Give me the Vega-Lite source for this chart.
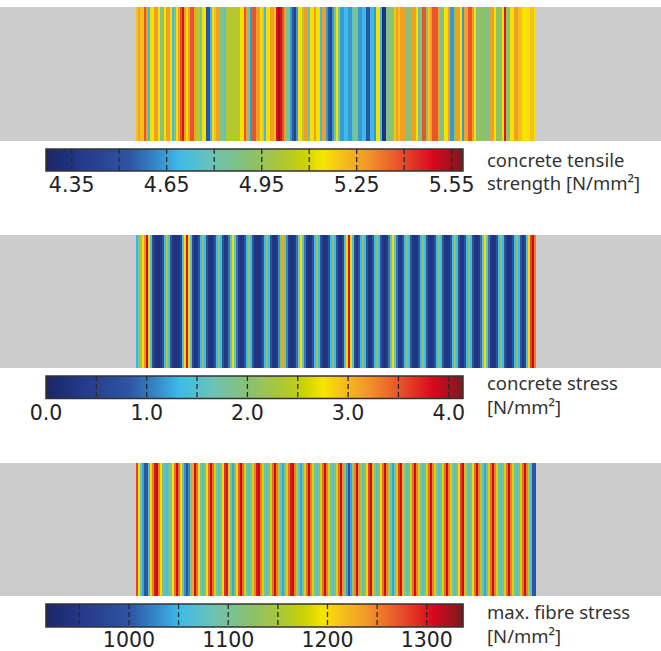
{
"$schema": "https://vega.github.io/schema/vega-lite/v6.json",
"padding": {"left": 0, "top": 6, "right": 0, "bottom": 0},
"bounds": "flush",
"spacing": 0,
"resolve": {"scale": {"color": "independent", "x": "independent", "y": "independent"}},
"config": {"view": {"stroke": null}},
"datasets": {
"tensile": [
{"i":0,"v":5.2},{"i":1,"v":5.27},{"i":2,"v":5.2},{"i":3,"v":5.2},{"i":4,"v":5.38},{"i":5,"v":5.27},{"i":6,"v":4.69},{"i":7,"v":5.15},{"i":8,"v":5.15},{"i":9,"v":5.27},
{"i":10,"v":5.27},{"i":11,"v":5.15},{"i":12,"v":4.86},{"i":13,"v":4.93},{"i":14,"v":5.15},{"i":15,"v":5.27},{"i":16,"v":5.27},{"i":17,"v":5.15},{"i":18,"v":4.69},{"i":19,"v":4.86},
{"i":20,"v":5.15},{"i":21,"v":5.27},{"i":22,"v":5.38},{"i":23,"v":5.48},{"i":24,"v":5.27},{"i":25,"v":5.15},{"i":26,"v":5.27},{"i":27,"v":5.38},{"i":28,"v":5.38},{"i":29,"v":5.27},
{"i":30,"v":5.03},{"i":31,"v":5.03},{"i":32,"v":4.86},{"i":33,"v":5.15},{"i":34,"v":5.15},{"i":35,"v":4.53},{"i":36,"v":4.53},{"i":37,"v":4.69},{"i":38,"v":5.15},{"i":39,"v":5.2},
{"i":40,"v":5.27},{"i":41,"v":5.27},{"i":42,"v":4.86},{"i":43,"v":4.86},{"i":44,"v":4.77},{"i":45,"v":5.03},{"i":46,"v":5.03},{"i":47,"v":5.03},{"i":48,"v":5.03},{"i":49,"v":5.03},
{"i":50,"v":5.03},{"i":51,"v":5.03},{"i":52,"v":5.15},{"i":53,"v":5.15},{"i":54,"v":5.38},{"i":55,"v":5.27},{"i":56,"v":4.86},{"i":57,"v":4.64},{"i":58,"v":5.38},{"i":59,"v":5.38},
{"i":60,"v":5.27},{"i":61,"v":5.27},{"i":62,"v":5.15},{"i":63,"v":5.2},{"i":64,"v":4.69},{"i":65,"v":5.15},{"i":66,"v":5.15},{"i":67,"v":5.27},{"i":68,"v":5.27},{"i":69,"v":5.2},
{"i":70,"v":5.48},{"i":71,"v":5.55},{"i":72,"v":5.48},{"i":73,"v":5.38},{"i":74,"v":5.27},{"i":75,"v":4.86},{"i":76,"v":4.86},{"i":77,"v":4.64},{"i":78,"v":4.53},{"i":79,"v":4.43},
{"i":80,"v":4.64},{"i":81,"v":5.15},{"i":82,"v":5.15},{"i":83,"v":5.03},{"i":84,"v":5.27},{"i":85,"v":5.27},{"i":86,"v":4.77},{"i":87,"v":5.15},{"i":88,"v":5.15},{"i":89,"v":5.27},
{"i":90,"v":5.15},{"i":91,"v":5.15},{"i":92,"v":4.69},{"i":93,"v":5.27},{"i":94,"v":5.27},{"i":95,"v":4.64},{"i":96,"v":4.53},{"i":97,"v":4.43},{"i":98,"v":4.64},{"i":99,"v":4.86},
{"i":100,"v":5.15},{"i":101,"v":4.86},{"i":102,"v":4.64},{"i":103,"v":4.64},{"i":104,"v":4.69},{"i":105,"v":4.69},{"i":106,"v":4.64},{"i":107,"v":4.64},{"i":108,"v":4.77},{"i":109,"v":4.86},
{"i":110,"v":4.86},{"i":111,"v":4.64},{"i":112,"v":4.64},{"i":113,"v":4.69},{"i":114,"v":4.69},{"i":115,"v":4.53},{"i":116,"v":4.53},{"i":117,"v":4.69},{"i":118,"v":4.69},{"i":119,"v":4.64},
{"i":120,"v":5.15},{"i":121,"v":5.15},{"i":122,"v":4.69},{"i":123,"v":4.34},{"i":124,"v":4.34},{"i":125,"v":4.86},{"i":126,"v":4.86},{"i":127,"v":4.93},{"i":128,"v":4.93},{"i":129,"v":5.2},
{"i":130,"v":5.27},{"i":131,"v":5.2},{"i":132,"v":5.27},{"i":133,"v":5.27},{"i":134,"v":5.27},{"i":135,"v":4.86},{"i":136,"v":4.93},{"i":137,"v":4.93},{"i":138,"v":5.27},{"i":139,"v":5.27},
{"i":140,"v":5.15},{"i":141,"v":4.86},{"i":142,"v":4.86},{"i":143,"v":5.38},{"i":144,"v":5.38},{"i":145,"v":4.93},{"i":146,"v":5.2},{"i":147,"v":5.27},{"i":148,"v":5.38},{"i":149,"v":5.38},
{"i":150,"v":5.38},{"i":151,"v":5.27},{"i":152,"v":4.86},{"i":153,"v":4.86},{"i":154,"v":5.15},{"i":155,"v":5.15},{"i":156,"v":5.27},{"i":157,"v":4.64},{"i":158,"v":4.64},{"i":159,"v":4.93},
{"i":160,"v":5.27},{"i":161,"v":5.27},{"i":162,"v":5.15},{"i":163,"v":4.64},{"i":164,"v":5.27},{"i":165,"v":5.27},{"i":166,"v":5.38},{"i":167,"v":5.38},{"i":168,"v":5.27},{"i":169,"v":5.15},
{"i":170,"v":4.86},{"i":171,"v":4.93},{"i":172,"v":4.93},{"i":173,"v":4.93},{"i":174,"v":4.93},{"i":175,"v":4.86},{"i":176,"v":4.86},{"i":177,"v":5.27},{"i":178,"v":5.27},{"i":179,"v":5.15},
{"i":180,"v":4.93},{"i":181,"v":4.93},{"i":182,"v":4.93},{"i":183,"v":5.15},{"i":184,"v":5.48},{"i":185,"v":4.93},{"i":186,"v":4.93},{"i":187,"v":5.15},{"i":188,"v":5.15},{"i":189,"v":5.27},
{"i":190,"v":5.27},{"i":191,"v":5.2},{"i":192,"v":5.2},{"i":193,"v":5.15},{"i":194,"v":5.15},{"i":195,"v":5.15},{"i":196,"v":5.15},{"i":197,"v":5.2},{"i":198,"v":5.2},{"i":199,"v":5.15}
],
"stress": [
{"i":0,"v":1.3},{"i":1,"v":1.7},{"i":2,"v":2.3},{"i":3,"v":2.8},{"i":4,"v":3.2},{"i":5,"v":3.85},{"i":6,"v":2.8},{"i":7,"v":1.5},{"i":8,"v":0.7},{"i":9,"v":0.3},
{"i":10,"v":0.25},{"i":11,"v":0.25},{"i":12,"v":0.3},{"i":13,"v":0.8},{"i":14,"v":1.4},{"i":15,"v":2.4},{"i":16,"v":1.5},{"i":17,"v":0.8},{"i":18,"v":0.3},{"i":19,"v":0.25},
{"i":20,"v":0.25},{"i":21,"v":0.3},{"i":22,"v":0.6},{"i":23,"v":1.5},{"i":24,"v":2.8},{"i":25,"v":3.8},{"i":26,"v":2.8},{"i":27,"v":1.5},{"i":28,"v":0.6},{"i":29,"v":0.25},
{"i":30,"v":0.3},{"i":31,"v":0.8},{"i":32,"v":1.35},{"i":33,"v":2.1},{"i":34,"v":1.35},{"i":35,"v":0.8},{"i":36,"v":0.3},{"i":37,"v":0.25},{"i":38,"v":0.3},{"i":39,"v":0.8},
{"i":40,"v":1.35},{"i":41,"v":2.0},{"i":42,"v":1.35},{"i":43,"v":0.8},{"i":44,"v":0.3},{"i":45,"v":0.4},{"i":46,"v":1.0},{"i":47,"v":1.7},{"i":48,"v":2.8},{"i":49,"v":1.7},
{"i":50,"v":1.0},{"i":51,"v":0.4},{"i":52,"v":0.25},{"i":53,"v":0.3},{"i":54,"v":0.8},{"i":55,"v":1.35},{"i":56,"v":2.1},{"i":57,"v":1.35},{"i":58,"v":0.8},{"i":59,"v":0.3},
{"i":60,"v":0.25},{"i":61,"v":0.25},{"i":62,"v":0.3},{"i":63,"v":0.8},{"i":64,"v":1.35},{"i":65,"v":2.0},{"i":66,"v":1.35},{"i":67,"v":0.8},{"i":68,"v":0.3},{"i":69,"v":0.25},
{"i":70,"v":0.4},{"i":71,"v":1.1},{"i":72,"v":2.1},{"i":73,"v":3.1},{"i":74,"v":2.1},{"i":75,"v":1.1},{"i":76,"v":0.4},{"i":77,"v":0.25},{"i":78,"v":0.25},{"i":79,"v":0.4},
{"i":80,"v":1.0},{"i":81,"v":1.7},{"i":82,"v":2.8},{"i":83,"v":1.7},{"i":84,"v":1.0},{"i":85,"v":0.4},{"i":86,"v":0.25},{"i":87,"v":0.3},{"i":88,"v":0.8},{"i":89,"v":1.35},
{"i":90,"v":2.2},{"i":91,"v":1.35},{"i":92,"v":0.8},{"i":93,"v":0.3},{"i":94,"v":0.25},{"i":95,"v":0.3},{"i":96,"v":0.8},{"i":97,"v":1.35},{"i":98,"v":2.0},{"i":99,"v":1.35},
{"i":100,"v":0.8},{"i":101,"v":0.3},{"i":102,"v":0.25},{"i":103,"v":0.6},{"i":104,"v":1.5},{"i":105,"v":2.8},{"i":106,"v":3.8},{"i":107,"v":2.8},{"i":108,"v":1.5},{"i":109,"v":0.6},
{"i":110,"v":0.3},{"i":111,"v":0.8},{"i":112,"v":1.35},{"i":113,"v":2.1},{"i":114,"v":1.35},{"i":115,"v":0.8},{"i":116,"v":0.3},{"i":117,"v":0.3},{"i":118,"v":0.8},{"i":119,"v":1.35},
{"i":120,"v":2.0},{"i":121,"v":1.35},{"i":122,"v":0.8},{"i":123,"v":0.3},{"i":124,"v":0.25},{"i":125,"v":0.4},{"i":126,"v":1.0},{"i":127,"v":1.7},{"i":128,"v":2.8},{"i":129,"v":1.7},
{"i":130,"v":1.0},{"i":131,"v":0.4},{"i":132,"v":0.3},{"i":133,"v":0.8},{"i":134,"v":1.35},{"i":135,"v":2.0},{"i":136,"v":1.35},{"i":137,"v":0.8},{"i":138,"v":0.3},{"i":139,"v":0.25},
{"i":140,"v":0.3},{"i":141,"v":0.8},{"i":142,"v":1.35},{"i":143,"v":2.1},{"i":144,"v":1.35},{"i":145,"v":0.8},{"i":146,"v":0.3},{"i":147,"v":0.25},{"i":148,"v":0.3},{"i":149,"v":0.8},
{"i":150,"v":1.35},{"i":151,"v":2.0},{"i":152,"v":1.35},{"i":153,"v":0.8},{"i":154,"v":0.3},{"i":155,"v":0.25},{"i":156,"v":0.3},{"i":157,"v":0.8},{"i":158,"v":1.35},{"i":159,"v":2.2},
{"i":160,"v":1.35},{"i":161,"v":0.8},{"i":162,"v":0.3},{"i":163,"v":0.3},{"i":164,"v":0.8},{"i":165,"v":1.35},{"i":166,"v":2.0},{"i":167,"v":1.35},{"i":168,"v":0.8},{"i":169,"v":0.3},
{"i":170,"v":0.25},{"i":171,"v":0.4},{"i":172,"v":1.0},{"i":173,"v":1.7},{"i":174,"v":2.8},{"i":175,"v":1.7},{"i":176,"v":1.0},{"i":177,"v":0.4},{"i":178,"v":0.25},{"i":179,"v":0.3},
{"i":180,"v":0.8},{"i":181,"v":1.35},{"i":182,"v":2.1},{"i":183,"v":1.35},{"i":184,"v":0.8},{"i":185,"v":0.3},{"i":186,"v":0.25},{"i":187,"v":0.3},{"i":188,"v":0.8},{"i":189,"v":1.35},
{"i":190,"v":2.0},{"i":191,"v":1.35},{"i":192,"v":0.8},{"i":193,"v":0.3},{"i":194,"v":0.6},{"i":195,"v":1.5},{"i":196,"v":2.8},{"i":197,"v":3.6},{"i":198,"v":3.9},{"i":199,"v":3.3}
],
"fibre": [
{"i":0,"v":1280},{"i":1,"v":1195},{"i":2,"v":1090},{"i":3,"v":1040},{"i":4,"v":1000},{"i":5,"v":1000},{"i":6,"v":1070},{"i":7,"v":1190},{"i":8,"v":1250},{"i":9,"v":1300},
{"i":10,"v":1310},{"i":11,"v":1250},{"i":12,"v":1195},{"i":13,"v":1120},{"i":14,"v":1080},{"i":15,"v":1060},{"i":16,"v":1080},{"i":17,"v":1120},{"i":18,"v":1195},{"i":19,"v":1260},
{"i":20,"v":1310},{"i":21,"v":1260},{"i":22,"v":1195},{"i":23,"v":1100},{"i":24,"v":1030},{"i":25,"v":1000},{"i":26,"v":1030},{"i":27,"v":1120},{"i":28,"v":1230},{"i":29,"v":1310},
{"i":30,"v":1260},{"i":31,"v":1195},{"i":32,"v":1100},{"i":33,"v":1070},{"i":34,"v":1100},{"i":35,"v":1195},{"i":36,"v":1260},{"i":37,"v":1310},{"i":38,"v":1260},{"i":39,"v":1180},
{"i":40,"v":1100},{"i":41,"v":1070},{"i":42,"v":1110},{"i":43,"v":1200},{"i":44,"v":1290},{"i":45,"v":1300},{"i":46,"v":1210},{"i":47,"v":1110},{"i":48,"v":1040},{"i":49,"v":1110},
{"i":50,"v":1200},{"i":51,"v":1270},{"i":52,"v":1310},{"i":53,"v":1260},{"i":54,"v":1180},{"i":55,"v":1100},{"i":56,"v":1070},{"i":57,"v":1100},{"i":58,"v":1180},{"i":59,"v":1250},
{"i":60,"v":1300},{"i":61,"v":1310},{"i":62,"v":1250},{"i":63,"v":1180},{"i":64,"v":1100},{"i":65,"v":1070},{"i":66,"v":1100},{"i":67,"v":1180},{"i":68,"v":1260},{"i":69,"v":1310},
{"i":70,"v":1250},{"i":71,"v":1160},{"i":72,"v":1080},{"i":73,"v":1040},{"i":74,"v":1090},{"i":75,"v":1180},{"i":76,"v":1260},{"i":77,"v":1300},{"i":78,"v":1310},{"i":79,"v":1250},
{"i":80,"v":1160},{"i":81,"v":1080},{"i":82,"v":1040},{"i":83,"v":1090},{"i":84,"v":1180},{"i":85,"v":1260},{"i":86,"v":1310},{"i":87,"v":1250},{"i":88,"v":1180},{"i":89,"v":1100},
{"i":90,"v":1070},{"i":91,"v":1100},{"i":92,"v":1180},{"i":93,"v":1260},{"i":94,"v":1310},{"i":95,"v":1250},{"i":96,"v":1180},{"i":97,"v":1100},{"i":98,"v":1070},{"i":99,"v":1100},
{"i":100,"v":1180},{"i":101,"v":1260},{"i":102,"v":1310},{"i":103,"v":1240},{"i":104,"v":1130},{"i":105,"v":1040},{"i":106,"v":1000},{"i":107,"v":1040},{"i":108,"v":1130},{"i":109,"v":1250},
{"i":110,"v":1310},{"i":111,"v":1240},{"i":112,"v":1150},{"i":113,"v":1070},{"i":114,"v":1120},{"i":115,"v":1200},{"i":116,"v":1280},{"i":117,"v":1310},{"i":118,"v":1220},{"i":119,"v":1130},
{"i":120,"v":1070},{"i":121,"v":1110},{"i":122,"v":1190},{"i":123,"v":1260},{"i":124,"v":1310},{"i":125,"v":1250},{"i":126,"v":1160},{"i":127,"v":1080},{"i":128,"v":1040},{"i":129,"v":1090},
{"i":130,"v":1180},{"i":131,"v":1280},{"i":132,"v":1310},{"i":133,"v":1220},{"i":134,"v":1130},{"i":135,"v":1070},{"i":136,"v":1100},{"i":137,"v":1180},{"i":138,"v":1260},{"i":139,"v":1310},
{"i":140,"v":1250},{"i":141,"v":1180},{"i":142,"v":1100},{"i":143,"v":1070},{"i":144,"v":1100},{"i":145,"v":1180},{"i":146,"v":1260},{"i":147,"v":1310},{"i":148,"v":1250},{"i":149,"v":1180},
{"i":150,"v":1100},{"i":151,"v":1070},{"i":152,"v":1100},{"i":153,"v":1180},{"i":154,"v":1260},{"i":155,"v":1310},{"i":156,"v":1250},{"i":157,"v":1180},{"i":158,"v":1100},{"i":159,"v":1070},
{"i":160,"v":1110},{"i":161,"v":1200},{"i":162,"v":1280},{"i":163,"v":1310},{"i":164,"v":1220},{"i":165,"v":1130},{"i":166,"v":1070},{"i":167,"v":1110},{"i":168,"v":1190},{"i":169,"v":1260},
{"i":170,"v":1310},{"i":171,"v":1250},{"i":172,"v":1160},{"i":173,"v":1080},{"i":174,"v":1040},{"i":175,"v":1090},{"i":176,"v":1180},{"i":177,"v":1260},{"i":178,"v":1310},{"i":179,"v":1250},
{"i":180,"v":1180},{"i":181,"v":1100},{"i":182,"v":1070},{"i":183,"v":1100},{"i":184,"v":1180},{"i":185,"v":1260},{"i":186,"v":1310},{"i":187,"v":1250},{"i":188,"v":1180},{"i":189,"v":1100},
{"i":190,"v":1070},{"i":191,"v":1100},{"i":192,"v":1180},{"i":193,"v":1260},{"i":194,"v":1310},{"i":195,"v":1250},{"i":196,"v":1160},{"i":197,"v":1060},{"i":198,"v":1000},{"i":199,"v":1000}
],
"ticks1": [{"t":4.35},{"t":4.5},{"t":4.65},{"t":4.8},{"t":4.95},{"t":5.1},{"t":5.25},{"t":5.4},{"t":5.55}],
"ticks2": [{"t":0.5},{"t":1.0},{"t":1.5},{"t":2.0},{"t":2.5},{"t":3.0},{"t":3.5},{"t":4.0}],
"ticks3": [{"t":950},{"t":1000},{"t":1050},{"t":1100},{"t":1150},{"t":1200},{"t":1250},{"t":1300}],
"labels1": [{"t":4.35,"lab":"4.35"},{"t":4.65,"lab":"4.65"},{"t":4.95,"lab":"4.95"},{"t":5.25,"lab":"5.25"},{"t":5.55,"lab":"5.55"}],
"labels2": [{"t":0,"lab":"0.0"},{"t":1,"lab":"1.0"},{"t":2,"lab":"2.0"},{"t":3,"lab":"3.0"},{"t":4,"lab":"4.0"}],
"labels3": [{"t":1000,"lab":"1000"},{"t":1100,"lab":"1100"},{"t":1200,"lab":"1200"},{"t":1300,"lab":"1300"}],
"one": [{}]
},
"vconcat": [
{
"width": 661, "height": 134,
"view": {"fill": "#cccccc", "stroke": null},
"data": {"name": "tensile"},
"mark": {"type": "rule", "strokeWidth": 2, "strokeCap": "butt"},
"encoding": {
"x": {"field": "i", "type": "quantitative", "axis": null, "scale": {"domain": [-68.5, 262], "nice": false, "zero": false}},
"color": {"field": "v", "type": "quantitative", "legend": null, "scale": {"type": "linear", "interpolate": "rgb",
"domain": [4.2688, 4.3742, 4.5322, 4.6112, 4.6902, 4.7956, 4.9273, 5.0326, 5.0853, 5.1445, 5.1906, 5.2696, 5.3882, 5.4935, 5.5857],
"range": ["#1c2566", "#233887", "#2d55a3", "#3584c6", "#3dbbe8", "#6cc2b4", "#8ec167", "#b4c92a", "#ccd300", "#f6e500", "#f6c619", "#f29f28", "#e8502b", "#d9071d", "#761c1f"]}}
}
},
{
"width": 661, "height": 94,
"layer": [
{
"data": {"name": "one"},
"mark": {"type": "rect", "stroke": "#333333", "strokeWidth": 1.5,
"fill": {"gradient": "linear", "x1": 0, "y1": 0, "x2": 1, "y2": 0, "stops": [
{"offset": 0, "color": "#1c2566"}, {"offset": 0.08, "color": "#233887"}, {"offset": 0.2, "color": "#2d55a3"}, {"offset": 0.26, "color": "#3584c6"}, {"offset": 0.32, "color": "#3dbbe8"}, {"offset": 0.4, "color": "#6cc2b4"}, {"offset": 0.5, "color": "#8ec167"}, {"offset": 0.58, "color": "#b4c92a"}, {"offset": 0.62, "color": "#ccd300"}, {"offset": 0.665, "color": "#f6e500"}, {"offset": 0.7, "color": "#f6c619"}, {"offset": 0.76, "color": "#f29f28"}, {"offset": 0.85, "color": "#e8502b"}, {"offset": 0.93, "color": "#d9071d"}, {"offset": 1, "color": "#761c1f"}]}},
"encoding": {
"x": {"datum": 4.2688, "type": "quantitative", "axis": null, "scale": {"domain": [4.1236, 6.211], "nice": false, "zero": false}},
"x2": {"datum": 5.5857},
"y": {"datum": 8, "type": "quantitative", "axis": null, "scale": {"domain": [0, 94], "reverse": true, "nice": false, "zero": false}},
"y2": {"datum": 30}
}
},
{
"data": {"name": "ticks1"},
"mark": {"type": "rule", "color": "#2a2a2a", "strokeWidth": 1.3, "strokeDash": [5, 3]},
"encoding": {"x": {"field": "t", "type": "quantitative", "axis": null}, "y": {"datum": 8, "type": "quantitative", "axis": null}, "y2": {"datum": 30}}
},
{
"data": {"name": "labels1"},
"mark": {"type": "text", "align": "center", "baseline": "top", "font": "DejaVu Sans", "fontSize": 20.5, "color": "#222222"},
"encoding": {"x": {"field": "t", "type": "quantitative", "axis": null}, "y": {"datum": 35, "type": "quantitative", "axis": null}, "text": {"field": "lab", "type": "nominal"}}
},
{
"data": {"name": "one"},
"mark": {"type": "text", "text": ["concrete tensile", "strength [N/mm²]"], "align": "left", "baseline": "middle", "font": "Noto Sans", "fontSize": 18.5, "lineHeight": 23, "color": "#333333"},
"encoding": {"x": {"datum": 5.6615, "type": "quantitative", "axis": null}, "y": {"datum": 20, "type": "quantitative", "axis": null}}
}
]
},
{
"width": 661, "height": 133,
"view": {"fill": "#cccccc", "stroke": null},
"data": {"name": "stress"},
"mark": {"type": "rule", "strokeWidth": 2, "strokeCap": "butt"},
"encoding": {
"x": {"field": "i", "type": "quantitative", "axis": null, "scale": {"domain": [-68.5, 262], "nice": false, "zero": false}},
"color": {"field": "v", "type": "quantitative", "legend": null, "scale": {"type": "linear", "interpolate": "rgb",
"domain": [0, 0.3313, 0.8282, 1.0767, 1.3251, 1.6564, 2.0705, 2.4018, 2.5674, 2.7538, 2.8987, 3.1472, 3.5199, 3.8511, 4.141],
"range": ["#1c2566", "#233887", "#2d55a3", "#3584c6", "#3dbbe8", "#6cc2b4", "#8ec167", "#b4c92a", "#ccd300", "#f6e500", "#f6c619", "#f29f28", "#e8502b", "#d9071d", "#761c1f"]}}
}
},
{
"width": 661, "height": 95,
"layer": [
{
"data": {"name": "one"},
"mark": {"type": "rect", "stroke": "#333333", "strokeWidth": 1.5,
"fill": {"gradient": "linear", "x1": 0, "y1": 0, "x2": 1, "y2": 0, "stops": [
{"offset": 0, "color": "#1c2566"}, {"offset": 0.08, "color": "#233887"}, {"offset": 0.2, "color": "#2d55a3"}, {"offset": 0.26, "color": "#3584c6"}, {"offset": 0.32, "color": "#3dbbe8"}, {"offset": 0.4, "color": "#6cc2b4"}, {"offset": 0.5, "color": "#8ec167"}, {"offset": 0.58, "color": "#b4c92a"}, {"offset": 0.62, "color": "#ccd300"}, {"offset": 0.665, "color": "#f6e500"}, {"offset": 0.7, "color": "#f6c619"}, {"offset": 0.76, "color": "#f29f28"}, {"offset": 0.85, "color": "#e8502b"}, {"offset": 0.93, "color": "#d9071d"}, {"offset": 1, "color": "#761c1f"}]}},
"encoding": {
"x": {"datum": 0, "type": "quantitative", "axis": null, "scale": {"domain": [-0.4568, 6.1072], "nice": false, "zero": false}},
"x2": {"datum": 4.141},
"y": {"datum": 8, "type": "quantitative", "axis": null, "scale": {"domain": [0, 95], "reverse": true, "nice": false, "zero": false}},
"y2": {"datum": 30.5}
}
},
{
"data": {"name": "ticks2"},
"mark": {"type": "rule", "color": "#2a2a2a", "strokeWidth": 1.3, "strokeDash": [5, 3]},
"encoding": {"x": {"field": "t", "type": "quantitative", "axis": null}, "y": {"datum": 8, "type": "quantitative", "axis": null}, "y2": {"datum": 30.5}}
},
{
"data": {"name": "labels2"},
"mark": {"type": "text", "align": "center", "baseline": "top", "font": "DejaVu Sans", "fontSize": 20.5, "color": "#222222"},
"encoding": {"x": {"field": "t", "type": "quantitative", "axis": null}, "y": {"datum": 36, "type": "quantitative", "axis": null}, "text": {"field": "lab", "type": "nominal"}}
},
{
"data": {"name": "one"},
"mark": {"type": "text", "text": ["concrete stress", "[N/mm²]"], "align": "left", "baseline": "middle", "font": "Noto Sans", "fontSize": 18.5, "lineHeight": 23.5, "color": "#333333"},
"encoding": {"x": {"datum": 4.379, "type": "quantitative", "axis": null}, "y": {"datum": 16, "type": "quantitative", "axis": null}}
}
]
},
{
"width": 661, "height": 133,
"view": {"fill": "#cccccc", "stroke": null},
"data": {"name": "fibre"},
"mark": {"type": "rule", "strokeWidth": 2, "strokeCap": "butt"},
"encoding": {
"x": {"field": "i", "type": "quantitative", "axis": null, "scale": {"domain": [-68.5, 262], "nice": false, "zero": false}},
"color": {"field": "v", "type": "quantitative", "legend": null, "scale": {"type": "linear", "interpolate": "rgb",
"domain": [916.4, 950.0, 1000.44, 1025.65, 1050.86, 1084.48, 1126.5, 1160.12, 1176.92, 1195.83, 1210.54, 1235.75, 1273.57, 1307.19, 1336.6],
"range": ["#1c2566", "#233887", "#2d55a3", "#3584c6", "#3dbbe8", "#6cc2b4", "#8ec167", "#b4c92a", "#ccd300", "#f6e500", "#f6c619", "#f29f28", "#e8502b", "#d9071d", "#761c1f"]}}
}
},
{
"width": 661, "height": 56,
"layer": [
{
"data": {"name": "one"},
"mark": {"type": "rect", "stroke": "#333333", "strokeWidth": 1.5,
"fill": {"gradient": "linear", "x1": 0, "y1": 0, "x2": 1, "y2": 0, "stops": [
{"offset": 0, "color": "#1c2566"}, {"offset": 0.08, "color": "#233887"}, {"offset": 0.2, "color": "#2d55a3"}, {"offset": 0.26, "color": "#3584c6"}, {"offset": 0.32, "color": "#3dbbe8"}, {"offset": 0.4, "color": "#6cc2b4"}, {"offset": 0.5, "color": "#8ec167"}, {"offset": 0.58, "color": "#b4c92a"}, {"offset": 0.62, "color": "#ccd300"}, {"offset": 0.665, "color": "#f6e500"}, {"offset": 0.7, "color": "#f6c619"}, {"offset": 0.76, "color": "#f29f28"}, {"offset": 0.85, "color": "#e8502b"}, {"offset": 0.93, "color": "#d9071d"}, {"offset": 1, "color": "#761c1f"}]}},
"encoding": {
"x": {"datum": 916.4, "type": "quantitative", "axis": null, "scale": {"domain": [870.1, 1536.0], "nice": false, "zero": false}},
"x2": {"datum": 1336.6},
"y": {"datum": 8, "type": "quantitative", "axis": null, "scale": {"domain": [0, 56], "reverse": true, "nice": false, "zero": false}},
"y2": {"datum": 31}
}
},
{
"data": {"name": "ticks3"},
"mark": {"type": "rule", "color": "#2a2a2a", "strokeWidth": 1.3, "strokeDash": [5, 3]},
"encoding": {"x": {"field": "t", "type": "quantitative", "axis": null}, "y": {"datum": 8, "type": "quantitative", "axis": null}, "y2": {"datum": 31}}
},
{
"data": {"name": "labels3"},
"mark": {"type": "text", "align": "center", "baseline": "top", "font": "DejaVu Sans", "fontSize": 20.5, "color": "#222222"},
"encoding": {"x": {"field": "t", "type": "quantitative", "axis": null}, "y": {"datum": 35, "type": "quantitative", "axis": null}, "text": {"field": "lab", "type": "nominal"}}
},
{
"data": {"name": "one"},
"mark": {"type": "text", "text": ["max. fibre stress", "[N/mm²]"], "align": "left", "baseline": "middle", "font": "Noto Sans", "fontSize": 18.5, "lineHeight": 23.5, "color": "#333333"},
"encoding": {"x": {"datum": 1360.7, "type": "quantitative", "axis": null}, "y": {"datum": 17, "type": "quantitative", "axis": null}}
}
]
}
]
}
